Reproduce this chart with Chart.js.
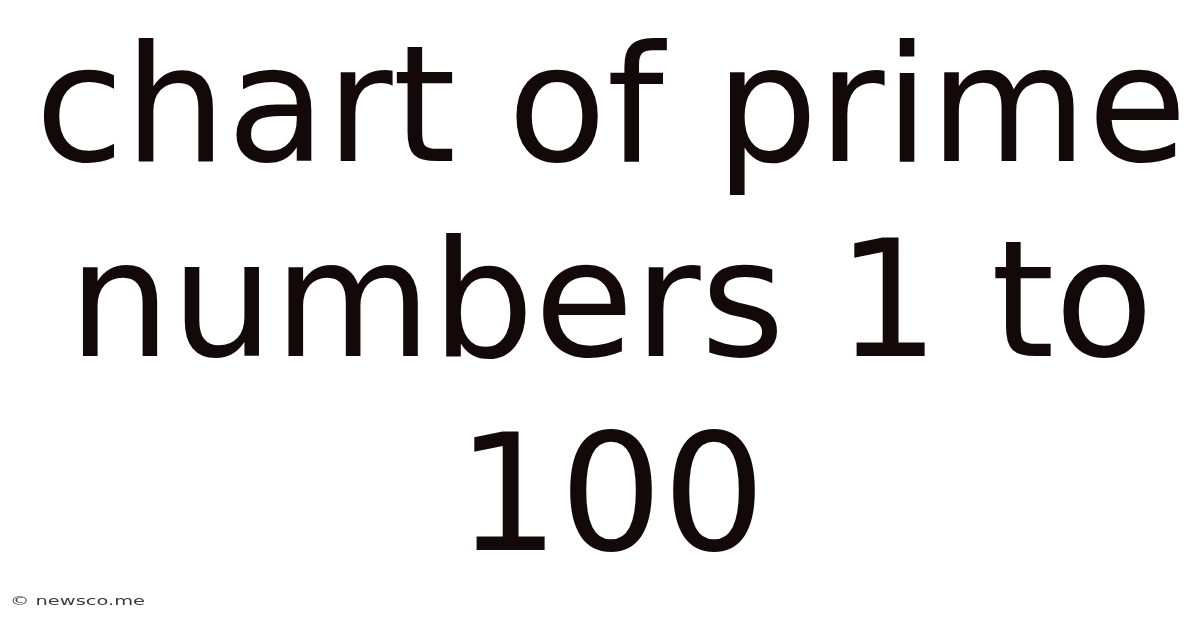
<!DOCTYPE html>
<html>
<head>
<meta charset="utf-8">
<script src="https://cdn.jsdelivr.net/npm/chart.js@4"></script>
<style>
html,body{margin:0;padding:0;background:#ffffff;}
#wrap{width:1200px;height:628px;position:relative;}
</style>
</head>
<body>
<div id="wrap"><canvas id="c" width="1200" height="628"></canvas></div>
<script>
const titleLines = ["chart of prime", "numbers 1 to", "100"];
const watermark = "© newsco.me";
const categories = [];
const values = [];

const watermarkPlugin = {
  id: 'watermark',
  afterDraw(chart) {
    const ctx = chart.ctx;
    ctx.save();
    ctx.font = '12px "DejaVu Sans"';
    ctx.fillStyle = '#3a3a3a';
    ctx.textBaseline = 'middle';
    ctx.textAlign = 'left';
    const w = ctx.measureText(watermark).width;
    const target = 135;
    ctx.translate(10, 602);
    ctx.scale(target / w, 1);
    ctx.fillText(watermark, 0, 0);
    ctx.restore();
  }
};

new Chart(document.getElementById('c'), {
  type: 'bar',
  data: { labels: categories, datasets: [{ data: values }] },
  plugins: [watermarkPlugin],
  options: {
    responsive: false,
    animation: false,
    devicePixelRatio: 1,
    layout: { padding: { left: 22, right: 0, top: 0, bottom: 0 } },
    scales: { x: { display: false }, y: { display: false } },
    plugins: {
      legend: { display: false },
      tooltip: { enabled: false },
      title: {
        display: true,
        text: titleLines,
        color: '#130909',
        align: 'center',
        font: { family: 'DejaVu Sans', size: 162, weight: 'normal', lineHeight: 1.2 },
        padding: { top: 22, bottom: 0 }
      }
    }
  }
});
</script>
</body>
</html>
